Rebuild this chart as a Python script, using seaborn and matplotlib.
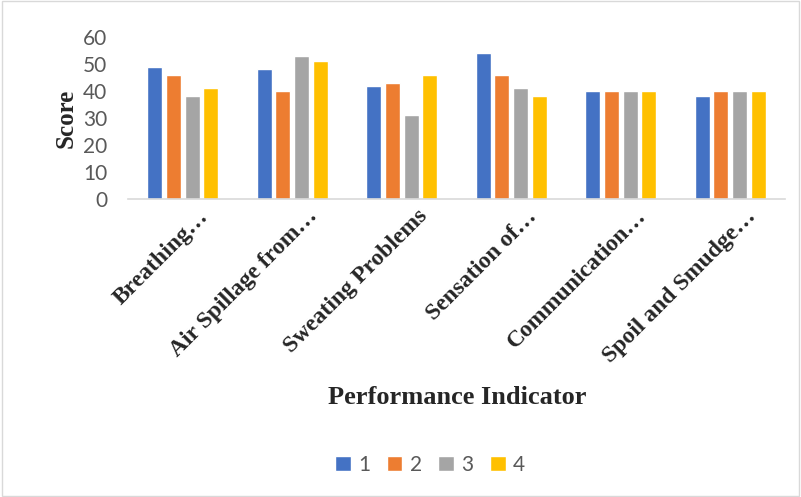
import seaborn as sns
import numpy as np
import pandas as pd
import matplotlib.pyplot as plt
import matplotlib.transforms as mtransforms
from matplotlib.patches import Rectangle

indicators = ["Breathing…", "Air Spillage from…", "Sweating Problems",
              "Sensation of…", "Communication…", "Spoil and Smudge…"]
s1 = [49, 48, 42, 54, 40, 38]
s2 = [46, 40, 43, 46, 40, 40]
s3 = [38, 53, 31, 41, 40, 40]
s4 = [41, 51, 46, 38, 40, 40]
series = ["1", "2", "3", "4"]
colors = ["#4472C4", "#ED7D31", "#A5A5A5", "#FFC000"]

df = pd.DataFrame({"indicator": indicators, "1": s1, "2": s2, "3": s3, "4": s4})
df = df.melt(id_vars="indicator", var_name="series", value_name="score")

sns.set_theme(style="white")
plt.rcParams['font.family'] = ['Lato', 'DejaVu Sans']

fig = plt.figure(figsize=(8.01, 4.97), dpi=100)
ax = fig.add_axes([128/801, 1-199/497, 657/801, 162/497])

sns.barplot(data=df, x="indicator", y="score", hue="series", hue_order=series,
            palette=colors, width=0.68, gap=0.2, saturation=1, ax=ax)

ax.set_ylim(0, 60)
ax.set_yticks(np.arange(0, 61, 10))
ax.tick_params(axis='y', labelsize=15, labelcolor="#595959", length=0, pad=15)
ax.tick_params(axis='x', length=0, pad=2)
shift = mtransforms.ScaledTranslation(15/100, -4/100, fig.dpi_scale_trans)
for lbl in ax.get_xticklabels():
    lbl.set_rotation(45)
    lbl.set_ha('right')
    lbl.set_va('top')
    lbl.set_rotation_mode('anchor')
    lbl.set_family('Liberation Serif')
    lbl.set_fontweight('bold')
    lbl.set_fontsize(17)
    lbl.set_transform(lbl.get_transform() + shift)

for s in ["top", "right", "left"]:
    ax.spines[s].set_visible(False)
ax.spines["bottom"].set_color("#D9D9D9")
ax.spines["bottom"].set_linewidth(1.2)

ax.set_ylabel("Score", family="Liberation Serif", fontweight="bold", fontsize=18, labelpad=4)
ax.set_xlabel("")
fig.text(457/801, 1-397/497, "Performance Indicator", family="Liberation Serif",
         fontweight="bold", fontsize=19, ha="center", va="center")

handles, labels = ax.get_legend_handles_labels()
ax.legend_.remove()
fig.legend(handles, labels, loc="center", bbox_to_anchor=(430/801, 1-465/497), ncol=4,
           frameon=False, fontsize=15, handlelength=0.75, handleheight=0.75,
           handletextpad=0.35, columnspacing=0.8, labelcolor="#595959")

fig.patches.append(Rectangle((0.002, 0.002), 0.996, 0.996, transform=fig.transFigure,
                             fill=False, edgecolor="#D9D9D9", linewidth=1))

fig.savefig("out.png", dpi=100)
